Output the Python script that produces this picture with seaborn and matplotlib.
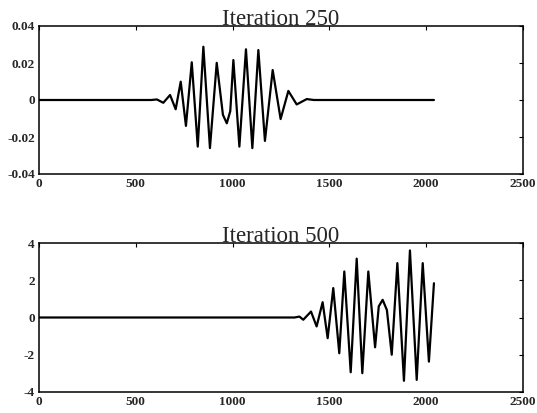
import matplotlib
matplotlib.use("Agg")
import matplotlib.pyplot as plt
import seaborn as sns
import pandas as pd

# Iteration 250: points (x, y)
x250 = [0, 580, 609, 642, 677, 706, 732, 759, 789, 820, 849, 883, 918, 950,
        970, 988, 1004, 1035, 1069, 1102, 1133, 1167, 1207, 1248, 1288, 1331,
        1383, 1420, 2040]
y250 = [0.0, 0.0, 0.0003, -0.0015, 0.0027, -0.0050, 0.0099, -0.0140, 0.0204,
        -0.0252, 0.0288, -0.0260, 0.0201, -0.0080, -0.0126, -0.0060, 0.0216,
        -0.0252, 0.0274, -0.0260, 0.0270, -0.0221, 0.0162, -0.0103, 0.0049,
        -0.0024, 0.0005, 0.0, 0.0]

# Iteration 500: points (x, y)
x500 = [0, 1320, 1345, 1365, 1405, 1434, 1465, 1491, 1520, 1551, 1577, 1610,
        1641, 1670, 1701, 1736, 1755, 1775, 1797, 1822, 1851, 1885, 1916,
        1951, 1982, 2014, 2040]
y500 = [0.0, 0.0, 0.05, -0.12, 0.32, -0.48, 0.82, -1.11, 1.58, -1.92, 2.47,
        -2.94, 3.16, -2.99, 2.47, -1.60, 0.60, 0.95, 0.40, -2.00, 2.92,
        -3.40, 3.60, -3.35, 2.92, -2.37, 1.84]

titles = ["Iteration 250", "Iteration 500"]
xticks = [0, 500, 1000, 1500, 2000, 2500]
yticks250 = [-0.04, -0.02, 0, 0.02, 0.04]
ytick250_labels = ["-0.04", "-0.02", "0", "0.02", "0.04"]
yticks500 = [-4, -2, 0, 2, 4]
ytick500_labels = ["-4", "-2", "0", "2", "4"]

sns.set_style("white")
plt.rcParams["font.family"] = ["Liberation Serif", "DejaVu Serif"]

fig = plt.figure(figsize=(5.37, 4.13), dpi=100)
ax1 = fig.add_axes([39/537, 1-174/413, (523-39)/537, (174-26)/413])
ax2 = fig.add_axes([39/537, 1-392/413, (523-39)/537, (392-243)/413])

df1 = pd.DataFrame({"x": x250, "y": y250})
df2 = pd.DataFrame({"x": x500, "y": y500})

for ax, df in [(ax1, df1), (ax2, df2)]:
    sns.lineplot(data=df, x="x", y="y", ax=ax, color="black", lw=1.6,
                 estimator=None, sort=False, solid_joinstyle="round",
                 solid_capstyle="round")

for ax, title, yt, ytl, ylim in [
    (ax1, titles[0], yticks250, ytick250_labels, (-0.04, 0.04)),
    (ax2, titles[1], yticks500, ytick500_labels, (-4, 4)),
]:
    ax.set_xlim(0, 2500)
    ax.set_ylim(*ylim)
    ax.set_xticks(xticks)
    ax.set_xticklabels([str(t) for t in xticks])
    ax.set_yticks(yt)
    ax.set_yticklabels(ytl)
    ax.set_xlabel("")
    ax.set_ylabel("")
    ax.set_title(title, fontsize=16.5, pad=1)
    ax.tick_params(direction="in", length=3, width=0.8, top=True, right=True,
                   labelsize=9.5, pad=3, color="black")
    for lab in ax.get_xticklabels() + ax.get_yticklabels():
        lab.set_fontweight("bold")
    for sp in ax.spines.values():
        sp.set_visible(True)
        sp.set_color("black")
        sp.set_linewidth(1.1)

fig.savefig("out.png", dpi=100)
